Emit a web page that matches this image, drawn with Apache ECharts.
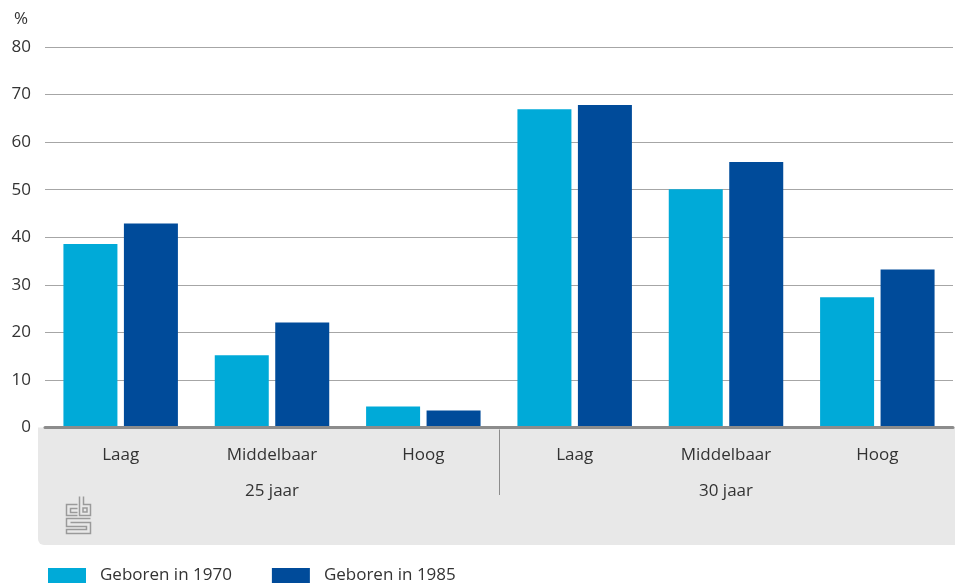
<!DOCTYPE html>
<html>
<head>
<meta charset="UTF-8">
<title>Geboren in 1970 / 1985</title>
<script src="https://cdn.jsdelivr.net/npm/echarts@6/dist/echarts.min.js"></script>
<style>
  html, body { margin: 0; padding: 0; background: #fff; }
  #main { width: 955px; height: 583px; }
</style>
</head>
<body>
<div id="main"></div>
<script type="text/javascript">
// categorieen
var niveaus = ['Laag', 'Middelbaar', 'Hoog', 'Laag', 'Middelbaar', 'Hoog'];
var leeftijden = ['25 jaar', '30 jaar'];
// waarden in %
var geboren1970 = [38.6, 15.2, 4.4, 66.9, 50.1, 27.4];
var geboren1985 = [42.9, 22.1, 3.6, 67.8, 55.8, 33.2];
var yTicks = [0, 10, 20, 30, 40, 50, 60, 70, 80];

var lichtblauw = '#00aad8';
var donkerblauw = '#004b9a';
var tekst = '#333333';
var font = 'Open Sans';

var myChart = echarts.init(document.getElementById('main'));

var option = {
    animation: false,
    textStyle: { fontFamily: font },
    grid: { left: 45, right: 2, top: 47, bottom: 155.5 },
    legend: {
        left: 48, top: 567, padding: 0,
        itemWidth: 38, itemHeight: 15, itemGap: 40,
        icon: 'rect',
        textStyle: { fontSize: 17, color: tekst, fontFamily: font, padding: [0, 0, 0, 9] },
        data: ['Geboren in 1970', 'Geboren in 1985']
    },
    xAxis: [
        {
            type: 'category',
            data: niveaus,
            z: 10,
            axisLine: { show: true, lineStyle: { color: '#8c8c8c', width: 3 } },
            axisTick: { show: false },
            axisLabel: { fontSize: 17, color: tekst, margin: 19, fontFamily: font }
        },
        {
            type: 'category',
            data: leeftijden,
            position: 'bottom',
            axisLine: { show: false },
            axisTick: { show: false },
            axisLabel: { fontSize: 17, color: tekst, margin: 55, fontFamily: font }
        }
    ],
    yAxis: {
        type: 'value',
        min: yTicks[0],
        max: yTicks[yTicks.length - 1],
        interval: 10,
        name: '%',
        nameLocation: 'end',
        nameGap: 19,
        nameTextStyle: { fontSize: 17, color: tekst, align: 'right', padding: [0, 17, 0, 0], fontFamily: font },
        axisLine: { show: false },
        axisTick: { show: false },
        axisLabel: {
            fontSize: 17, color: tekst, margin: 14, fontFamily: font,
            padding: [0, 0, 5, 0]
        },
        splitLine: { lineStyle: { color: '#a6a6a6', width: 1 } }
    },
    series: [
        {
            name: 'Geboren in 1970',
            type: 'bar',
            data: geboren1970,
            barWidth: 54,
            barGap: '12%',
            itemStyle: { color: lichtblauw }
        },
        {
            name: 'Geboren in 1985',
            type: 'bar',
            data: geboren1985,
            barWidth: 54,
            itemStyle: { color: donkerblauw }
        }
    ]
};

myChart.setOption(option);

// grijze achtergrond onder de as, scheidslijn tussen de leeftijdsgroepen en cbs-logo
var x0 = myChart.convertToPixel({ xAxisIndex: 0 }, 2);
var x1 = myChart.convertToPixel({ xAxisIndex: 0 }, 3);
var nul = myChart.convertToPixel({ yAxisIndex: 0 }, 0);
var sepX = Math.round((x0 + x1) / 2) + 0.5;
var logoKleur = '#9a9a9a';

myChart.setOption({
    graphic: [
        {
            type: 'rect', z: -10, silent: true,
            shape: { x: 38, y: nul, width: 917, height: 545 - nul, r: [0, 0, 0, 6] },
            style: { fill: '#e8e8e8' }
        },
        {
            type: 'line', z: 5, silent: true,
            shape: { x1: sepX, y1: nul + 2, x2: sepX, y2: 495 },
            style: { stroke: '#8c8c8c', lineWidth: 1 }
        },
        {
            type: 'group', left: 64, top: 494, silent: true,
            children: [
                { type: 'polyline', shape: { points: [[12, 8], [1, 8], [1, 19], [12, 19]] }, style: { stroke: logoKleur, fill: null, lineWidth: 1.5 } },
                { type: 'polyline', shape: { points: [[12, 12], [5, 12], [5, 16], [12, 16]] }, style: { stroke: logoKleur, fill: null, lineWidth: 1.5 } },
                { type: 'polyline', shape: { points: [[14, 0], [14, 19], [25, 19], [25, 8], [18, 8], [18, 0]] }, style: { stroke: logoKleur, fill: null, lineWidth: 1.5 } },
                { type: 'rect', shape: { x: 17.5, y: 11.5, width: 4, height: 4 }, style: { stroke: logoKleur, fill: null, lineWidth: 1.5 } },
                { type: 'polyline', shape: { points: [[25, 22], [1, 22], [1, 30], [21, 30], [21, 33], [1, 33], [1, 37], [25, 37], [25, 26], [5, 26]] }, style: { stroke: logoKleur, fill: null, lineWidth: 1.5 } }
            ]
        }
    ]
});
</script>
</body>
</html>
